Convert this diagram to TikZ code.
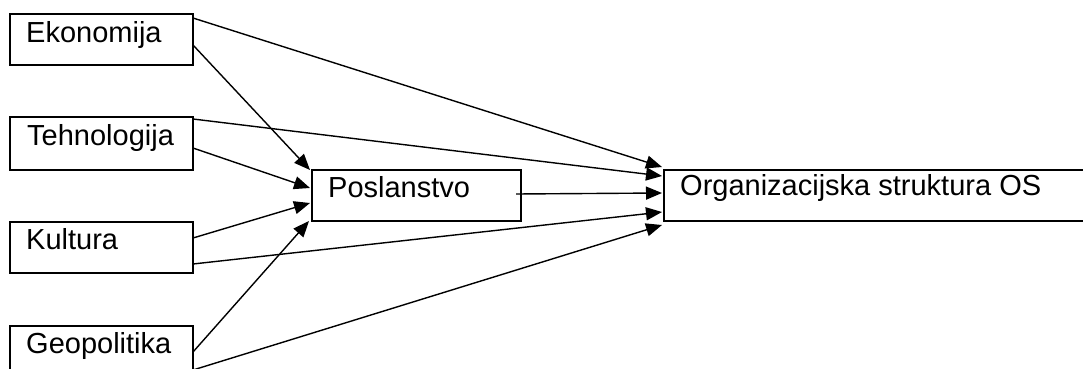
\documentclass[tikz,border=0pt]{standalone}
\usepackage{fontspec}
\setmainfont{Liberation Sans}
\usetikzlibrary{arrows.meta,calc}
\tikzset{
  box/.style={draw=black, line width=1.7pt, inner sep=0pt, outer sep=0pt,
    anchor=north west, minimum height=51pt},
  srcbox/.style={box, minimum width=183pt},
  lbl/.style={inner sep=0pt, anchor=base west, font=\fontsize{29}{34}\selectfont},
  link/.style={draw=black, line width=1.4pt, -{Triangle[length=16pt,width=13pt]}}
}
\begin{document}
\begin{tikzpicture}[x=1pt,y=-1pt]
  \useasboundingbox (0,0) rectangle (1083,369);
  \clip (0,0) rectangle (1083,369);
  \fill[white] (0,0) rectangle (1083,369);

  % source factors
  \node[srcbox, minimum height=51pt] (eko) at (10,14) {};
  \node[srcbox, minimum height=53pt] (teh) at (10,117) {};
  \node[srcbox, minimum height=51pt] (kul) at (10,222) {};
  \node[srcbox, minimum height=51pt] (geo) at (10,326) {};
  % mediator and outcome
  \node[box, minimum width=209pt] (pos) at (312,170) {};
  \node[box, minimum width=440pt] (os) at (664,170) {};

  % labels
  \node[lbl] at (26,42) {Ekonomija};
  \node[lbl] at (27,145) {Tehnologija};
  \node[lbl] at (26,249) {Kultura};
  \node[lbl] at (26,353) {Geopolitika};
  \node[lbl] at (328,197) {Poslanstvo};
  \node[lbl] at (680,195) {Organizacijska struktura OS};

  % influences
  \draw[link] ($(eko.north east)+(0,4)$) -- ($(os.north west)+(-2,-3)$);
  \draw[link] ($(eko.north east)+(0,31)$) -- ($(pos.north west)+(-2,0)$);
  \draw[link] ($(teh.north east)+(0,2)$) -- ($(os.north west)+(-2,6)$);
  \draw[link] ($(teh.north east)+(0,31)$) -- ($(pos.north west)+(-2,18)$);
  \draw[link] ($(kul.north east)+(0,16)$) -- ($(pos.north west)+(-2,33)$);
  \draw[link] ($(kul.north east)+(0,42)$) -- ($(os.north west)+(-2,42)$);
  \draw[link] ($(pos.north east)+(-5,24)$) -- ($(os.north west)+(-2,23)$);
  \draw[link] ($(geo.north east)+(0,26)$) -- ($(pos.north west)+(-3,51)$);
  \draw[link] ($(geo.north east)+(0,44)$) -- ($(os.north west)+(-2,55)$);
\end{tikzpicture}
\end{document}
